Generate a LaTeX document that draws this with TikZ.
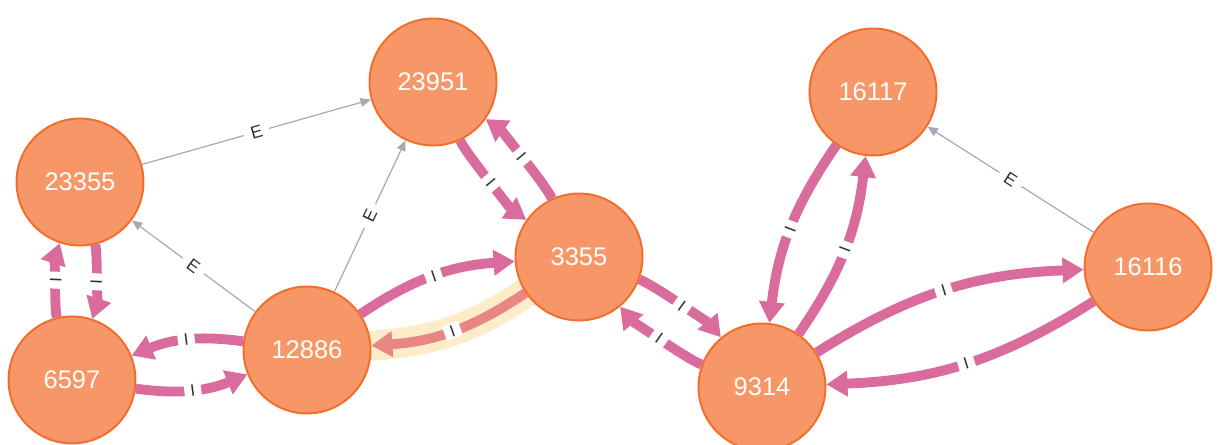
\documentclass[tikz,border=0pt]{standalone}
\usepackage{fontspec}
\setmainfont{Liberation Sans}
\usetikzlibrary{arrows.meta, backgrounds}
\definecolor{nodefill}{RGB}{247,151,103}
\definecolor{nodeline}{RGB}{243,108,42}
\definecolor{relpink}{RGB}{218,108,157}
\definecolor{relgray}{RGB}{165,171,182}
\definecolor{relhigh}{RGB}{234,134,130}
\definecolor{halo}{RGB}{252,236,200}
\definecolor{labelgray}{RGB}{50,50,50}

\begin{document}
\begin{tikzpicture}[x=0.02cm, y=-0.02cm,
  entity/.style={circle, fill=nodefill, draw=nodeline, line width=1.1pt, minimum size=2.54cm, inner sep=0pt, text=white, font=\fontsize{14.5}{17}\selectfont},
  irel/.style={-{Triangle[length=12pt, width=14pt]}, line width=5.6pt, relpink},
  erel/.style={-{Triangle[length=6pt, width=5pt]}, line width=0.7pt, relgray},
  ilab/.style={sloped, fill=white, text=labelgray, inner xsep=3.5pt, inner ysep=1pt, font=\fontsize{9.5}{10}\selectfont},
  elab/.style={ilab, inner xsep=4pt, font=\fontsize{10}{11}\selectfont},
  flat/.style={looseness=0.4}
]
  \useasboundingbox (0,0) rectangle (1224,445);

  \node[entity] (n23355) at (80,182) {23355};
  \node[entity] (n6597) at (72,380) {6597};
  \node[entity] (n12886) at (307,350) {12886};
  \node[entity] (n23951) at (433,82) {23951};
  \node[entity] (n3355) at (579,257) {3355};
  \node[entity] (n9314) at (762,387) {9314};
  \node[entity] (n16117) at (873,92) {16117};
  \node[entity] (n16116) at (1148,267) {16116};

  % selected relationship
  \begin{scope}[on background layer]
    \draw[halo, line width=17pt, line cap=round] (n3355) to[bend left=15] (n12886);
  \end{scope}

  \draw[erel] (n23355) -- node[elab] {E} (n23951);
  \draw[erel] (n12886) -- node[elab] {E} (n23355);
  \draw[erel] (n12886) -- node[elab] {E} (n23951);
  \draw[erel] (n16116) -- node[elab] {E} (n16117);

  \draw[irel] (n6597) to[bend left=16, flat] node[ilab] {I} (n23355);
  \draw[irel] (n23355) to[bend left=16, flat] node[ilab] {I} (n6597);
  \draw[irel] (n12886) to[bend right=15] node[ilab] {I} (n6597);
  \draw[irel] (n6597) to[bend right=15] node[ilab] {I} (n12886);
  \draw[irel] (n12886) to[bend left=15] node[ilab] {I} (n3355);
  \draw[irel, relhigh] (n3355) to[bend left=15] node[ilab] {I} (n12886);
  \draw[irel] (n23951) to[bend right=15, flat] node[ilab] {I} (n3355);
  \draw[irel] (n3355) to[bend right=15, flat] node[ilab] {I} (n23951);
  \draw[irel] (n3355) to[bend left=15, flat] node[ilab] {I} (n9314);
  \draw[irel] (n9314) to[bend left=15, flat] node[ilab] {I} (n3355);
  \draw[irel] (n16117) to[bend right=14] node[ilab] {I} (n9314);
  \draw[irel] (n9314) to[bend right=14] node[ilab] {I} (n16117);
  \draw[irel] (n9314) to[bend left=15] node[ilab] {I} (n16116);
  \draw[irel] (n16116) to[bend left=15] node[ilab] {I} (n9314);
\end{tikzpicture}
\end{document}
